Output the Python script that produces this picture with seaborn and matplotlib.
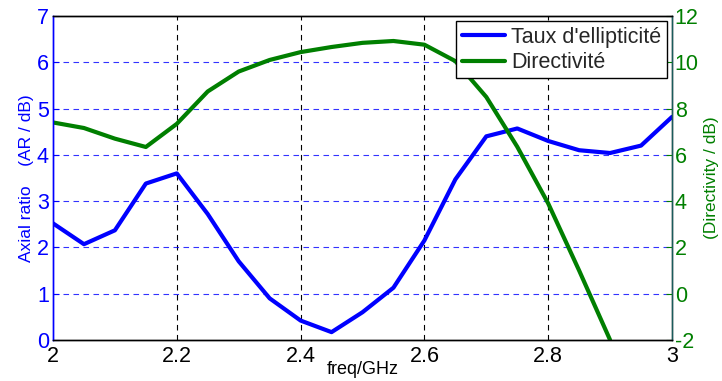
import numpy as np
import pandas as pd
import matplotlib
matplotlib.use("Agg")
import matplotlib.pyplot as plt
import seaborn as sns

freq_ar = [2.00, 2.05, 2.10, 2.15, 2.20, 2.25, 2.30, 2.35, 2.40, 2.45, 2.50,
           2.55, 2.60, 2.65, 2.70, 2.75, 2.80, 2.85, 2.90, 2.95, 3.00]
axial_ratio = [2.52, 2.07, 2.37, 3.38, 3.60, 2.72, 1.70, 0.90, 0.42, 0.17, 0.60,
               1.13, 2.15, 3.47, 4.40, 4.57, 4.30, 4.10, 4.04, 4.20, 4.82]
freq_dir = [2.00, 2.05, 2.10, 2.15, 2.20, 2.25, 2.30, 2.35, 2.40, 2.45, 2.50,
            2.55, 2.60, 2.65, 2.70, 2.75, 2.80, 2.85, 2.90]
directivity = [7.40, 7.16, 6.70, 6.34, 7.34, 8.74, 9.60, 10.10, 10.44, 10.66, 10.84,
               10.92, 10.76, 10.05, 8.50, 6.35, 3.90, 1.00, -2.00]

xticks = [2, 2.2, 2.4, 2.6, 2.8, 3]
yticks_left = [0, 1, 2, 3, 4, 5, 6, 7]
yticks_right = [-2, 0, 2, 4, 6, 8, 10, 12]

sns.set_style("white")
plt.rcParams['font.family'] = ['Liberation Sans', 'DejaVu Sans']
plt.rcParams['axes.unicode_minus'] = False

blue = "#0000ff"
green = "#007f00"

df_ar = pd.DataFrame({"freq": freq_ar, "ar": axial_ratio})
df_dir = pd.DataFrame({"freq": freq_dir, "dir": directivity})

fig = plt.figure(figsize=(7.22, 3.81), dpi=100)
ax = fig.add_axes([53/722, 1 - 340/381, (672 - 53)/722, (340 - 16)/381])
ax2 = ax.twinx()

sns.lineplot(data=df_ar, x="freq", y="ar", ax=ax, color=blue, lw=3,
             label="Taux d'ellipticité", legend=False)
sns.lineplot(data=df_dir, x="freq", y="dir", ax=ax2, color=green, lw=3,
             label="Directivité", legend=False)

ax.set_xlim(2, 3)
ax.set_ylim(0, 7)
ax2.set_ylim(-2, 12)
ax.set_xticks(xticks)
ax.set_xticklabels([f"{t:g}" for t in xticks])
ax.set_yticks(yticks_left)
ax2.set_yticks(yticks_right)

# grid lines
for t in xticks[1:-1]:
    ax.axvline(t, color="black", ls=(0, (5, 4)), lw=0.8, zorder=0)
for t in yticks_left[1:-1]:
    ax.axhline(t, color=blue, ls=(0, (5, 4)), lw=0.8, alpha=0.8, zorder=0)

ax.tick_params(axis="x", direction="in", labelsize=15.5, colors="black", length=4, pad=4)
ax.tick_params(axis="y", direction="in", labelsize=15.5, colors=blue, length=4, pad=3)
ax2.tick_params(axis="y", direction="in", labelsize=15.5, colors=green, length=4, pad=2)

for s in ["top", "bottom"]:
    ax.spines[s].set_color("black")
    ax2.spines[s].set_color("black")
ax.spines["left"].set_color(blue)
ax2.spines["left"].set_color(blue)
ax2.spines["right"].set_color("#1a5c5c")
for s in ax.spines.values():
    s.set_linewidth(1.0)
for s in ax2.spines.values():
    s.set_linewidth(1.0)

ax.set_xlabel("freq/GHz", fontsize=13, color="black", labelpad=-4)
ax.set_ylabel("Axial ratio    (AR / dB)", fontsize=12.5, color=blue, labelpad=2)
ax2.set_ylabel("(Directivity / dB)", fontsize=12.5, color=green, labelpad=4)

h1, l1 = ax.get_legend_handles_labels()
h2, l2 = ax2.get_legend_handles_labels()
leg = ax2.legend(h1 + h2, l1 + l2, loc="upper right", fontsize=15.5, frameon=True,
                 fancybox=False, edgecolor="black", framealpha=1,
                 borderpad=0.25, labelspacing=0.2, handlelength=2.0, handletextpad=0.3,
                 borderaxespad=0.25)
leg.get_frame().set_linewidth(1.0)

fig.savefig("out.png", dpi=100)
